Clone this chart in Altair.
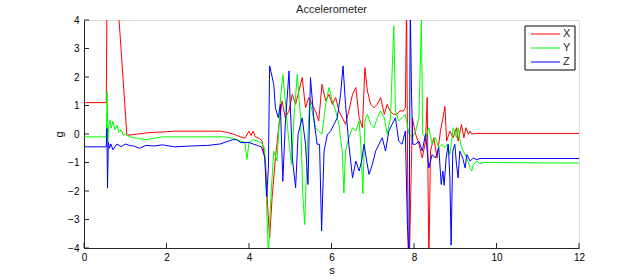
import altair as alt
import pandas as pd

# ---- data ----
series_names = ["X", "Y", "Z"]
series_colors = ["#ff0000", "#00ff00", "#0000ff"]
x_ticks = [0, 2, 4, 6, 8, 10, 12]
y_ticks = [-4, -3, -2, -1, 0, 1, 2, 3, 4]
chart_title = "Accelerometer"

tX = [0, 0.54, 0.56, 0.78, 1.04, 1.3, 1.6, 2.0, 2.2, 3.3,
      3.5, 3.7, 3.9, 4.0, 4.05, 4.1, 4.15, 4.25, 4.32, 4.40,
      4.45, 4.50, 4.56, 4.64, 4.72, 4.80, 4.88, 4.97, 5.05, 5.13,
      5.21, 5.29, 5.37, 5.45, 5.53, 5.61, 5.69, 5.77, 5.86, 5.94,
      6.02, 6.10, 6.18, 6.26, 6.34, 6.42, 6.51, 6.59, 6.67, 6.75,
      6.81, 6.87, 6.95, 7.03, 7.11, 7.19, 7.28, 7.35, 7.42, 7.50,
      7.58, 7.66, 7.74, 7.79, 7.82, 7.86, 7.89, 7.96, 8.04, 8.12,
      8.20, 8.28, 8.32, 8.36, 8.40, 8.48, 8.56, 8.64, 8.69, 8.75,
      8.79, 8.87, 8.95, 9.03, 9.07, 9.15, 9.21, 9.26, 9.32, 9.36,
      9.40, 9.50, 12.0]
gX = [1.1, 1.1, 5.5, 5.5, -0.05, 0.0, 0.05, 0.08, 0.1, 0.1,
      0.05, -0.05, -0.15, 0.1, -0.05, 0.1, -0.1, -0.15, -0.25, -1.0,
      -2.5, -3.65, -2.24, -0.84, 0.22, 1.16, 0.57, 0.81, 1.39, 1.04,
      1.51, 1.98, 0.92, 1.28, 1.04, 0.81, 0.46, 1.74, 1.16, 1.39,
      1.04, 1.28, 0.81, 0.57, 0.34, 0.81, 1.39, 1.63, 0.57, 0.22,
      2.33, 1.51, 1.04, 0.92, 1.04, 1.28, 0.69, 1.04, 0.81, 0.69,
      0.69, 0.81, 0.81, 0.92, 4.5, -4.5, -4.3, 0.57, -0.01, -0.36,
      -0.84, -0.25, 1.28, -4.5, -0.6, -0.13, -0.84, 0.10, 0.46, 0.97,
      -0.25, 0.10, -0.13, 0.22, -0.25, 0.34, -0.13, 0.22, -0.01, 0.10,
      0.0, 0.02, 0.02]

tY = [0, 0.54, 0.56, 0.58, 0.60, 0.63, 0.66, 0.70, 0.75, 0.80,
      0.85, 0.90, 0.95, 1.0, 1.1, 1.3, 1.5, 1.7, 1.9, 2.5,
      3.4, 3.6, 3.8, 3.9, 3.95, 4.0, 4.1, 4.2, 4.3, 4.38,
      4.47, 4.52, 4.60, 4.68, 4.76, 4.82, 4.88, 4.95, 5.03, 5.09,
      5.17, 5.25, 5.30, 5.35, 5.41, 5.47, 5.53, 5.61, 5.69, 5.77,
      5.86, 5.94, 6.02, 6.10, 6.18, 6.26, 6.30, 6.34, 6.42, 6.51,
      6.59, 6.67, 6.71, 6.76, 6.81, 6.87, 6.95, 7.03, 7.11, 7.19,
      7.28, 7.35, 7.43, 7.51, 7.55, 7.63, 7.71, 7.79, 7.88, 7.96,
      8.04, 8.12, 8.18, 8.21, 8.28, 8.36, 8.44, 8.52, 8.60, 8.68,
      8.75, 8.81, 8.87, 8.95, 9.03, 9.07, 9.13, 9.19, 9.28, 9.36,
      9.40, 9.44, 9.52, 9.60, 9.70, 12.0]
gY = [-0.1, -0.1, 1.5, -0.3, 0.3, 0.5, 0.2, 0.45, 0.15, 0.3,
      0.05, 0.15, -0.05, 0.0, -0.1, -0.15, -0.2, -0.15, -0.1, -0.1,
      -0.1, -0.15, -0.25, -0.3, -0.9, -0.3, -0.2, -0.25, -0.3, -0.5,
      -4.3, -2.48, -0.60, -0.95, 1.16, 2.09, 1.16, -0.01, -1.07, 0.57,
      2.09, 0.57, -2.01, -3.18, -0.60, 1.16, 0.81, 0.22, 0.10, -0.01,
      1.04, 1.63, 1.16, 0.81, 0.34, -0.60, -2.07, -0.60, -0.13, 0.22,
      0.10, 0.46, -0.36, -2.1, 0.46, 0.69, 0.34, 0.22, 0.57, 0.81,
      0.57, -0.01, 0.57, 3.8, 0.81, 0.46, 0.57, 0.69, -0.01, -0.13,
      0.10, 0.57, 4.0, -0.01, -0.13, 0.22, -0.36, -0.13, -0.48, -0.36,
      -0.48, -0.36, -0.72, 0.22, -0.13, 0.22, -0.36, -0.60, -0.84, -1.19,
      -1.30, -1.07, -0.95, -1.04, -1.0, -1.02]

tZ = [0, 0.54, 0.555, 0.57, 0.59, 0.62, 0.65, 0.70, 0.75, 0.80,
      0.90, 1.0, 1.1, 1.2, 1.35, 1.5, 1.7, 1.9, 2.2, 2.6,
      3.0, 3.3, 3.5, 3.6, 3.7, 3.8, 4.0, 4.1, 4.2, 4.3,
      4.38, 4.43, 4.47, 4.50, 4.53, 4.60, 4.64, 4.71, 4.76, 4.82,
      4.88, 4.97, 5.05, 5.13, 5.19, 5.29, 5.37, 5.43, 5.49, 5.57,
      5.65, 5.71, 5.76, 5.82, 5.90, 5.98, 6.06, 6.14, 6.22, 6.28,
      6.34, 6.42, 6.51, 6.59, 6.67, 6.73, 6.79, 6.84, 6.91, 6.99,
      7.07, 7.15, 7.23, 7.31, 7.39, 7.47, 7.55, 7.63, 7.71, 7.79,
      7.84, 7.88, 7.91, 7.94, 7.97, 8.04, 8.12, 8.20, 8.28, 8.36,
      8.44, 8.52, 8.60, 8.66, 8.70, 8.73, 8.78, 8.83, 8.87, 8.90,
      8.94, 8.99, 9.03, 9.07, 9.11, 9.18, 9.24, 9.28, 9.36, 9.44,
      9.52, 9.60, 12.0]
gZ = [-0.45, -0.45, 0.2, -1.9, -0.3, -0.5, -0.35, -0.55, -0.45, -0.35,
      -0.45, -0.35, -0.4, -0.42, -0.5, -0.4, -0.42, -0.38, -0.45, -0.42,
      -0.4, -0.35, -0.25, -0.2, -0.2, -0.3, -0.3, -0.35, -0.4, -0.45,
      -0.8, -2.2, -1.2, 2.39, 2.2, 1.74, 0.92, 0.57, 1.04, -1.66,
      0.34, 2.21, -0.84, -1.89, -0.01, 0.57, -0.36, -1.77, 1.98, 0.57,
      -0.36, -0.36, -3.4, -0.60, -0.01, 0.10, 0.34, 0.57, 1.39, 2.39,
      1.04, -0.36, -1.54, -0.95, -1.30, -0.95, -0.36, -0.84, -1.42, -1.07,
      -0.60, -0.36, -0.13, -0.60, 0.10, 0.34, 0.57, -0.25, -0.36, 0.10,
      -3.18, -4.3, 4.5, 1.39, -0.36, -0.36, -0.25, -0.60, 0.0, -1.19,
      -0.72, -0.84, -0.48, -1.77, -1.30, -1.8, -0.84, -0.36, -1.54, -3.9,
      -0.60, -0.36, -1.07, -1.54, -0.60, -0.84, -1.19, -0.72, -0.95, -0.84,
      -0.90, -0.86, -0.86]

# ---- build long table ----
frames = []
for name, ts, gs in zip(series_names, [tX, tY, tZ], [gX, gY, gZ]):
    assert len(ts) == len(gs)
    frames.append(pd.DataFrame({"t": ts, "g": gs, "series": name}))
df = pd.concat(frames, ignore_index=True)

W, H = 495, 228
FONT = "Liberation Sans"
AX = "#262626"

xscale = alt.Scale(domain=[0, 12], nice=False)
yscale = alt.Scale(domain=[-4, 4], nice=False)
xaxis = alt.Axis(values=x_ticks, title="s", grid=False, ticks=False,
                 labelFlush=False, labelOverlap=False,
                 labelPadding=4, titlePadding=2, domainColor=AX,
                 titleFontWeight="normal")
yaxis = alt.Axis(values=y_ticks, title="g", grid=False, ticks=False,
                 labelFlush=False, labelOverlap=False,
                 labelPadding=5, titlePadding=3, domainColor=AX,
                 titleFontWeight="normal")

lines = alt.Chart(df).mark_line(clip=True, strokeWidth=1).encode(
    x=alt.X("t:Q", scale=xscale, axis=xaxis),
    y=alt.Y("g:Q", scale=yscale, axis=yaxis),
    color=alt.Color("series:N", scale=alt.Scale(domain=series_names, range=series_colors),
                    legend=None),
)

xtick_df = pd.DataFrame({"t": x_ticks})
ytick_df = pd.DataFrame({"g": y_ticks})
xtick_marks = alt.Chart(xtick_df).mark_rule(color=AX, strokeWidth=1).encode(
    x=alt.X("t:Q", scale=xscale, axis=xaxis), y=alt.value(H), y2=alt.value(H - 5))
ytick_marks = alt.Chart(ytick_df).mark_rule(color=AX, strokeWidth=1).encode(
    y=alt.Y("g:Q", scale=yscale, axis=yaxis), x=alt.value(0), x2=alt.value(5))

one = pd.DataFrame({"a": [0]})

title_mark = alt.Chart(one).mark_text(align="center", baseline="middle", font=FONT,
                                      fontSize=11, color=AX).encode(
    x=alt.value(W / 2), y=alt.value(-10), text=alt.value(chart_title))

# ---- manual legend (MATLAB style) ----
leg_left, leg_right, leg_top, leg_bottom = 441, 491, 6, 50
legend_layers = [
    alt.Chart(one).mark_rect(fill="white", stroke="black", strokeWidth=1).encode(
        x=alt.value(leg_left), x2=alt.value(leg_right),
        y=alt.value(leg_top), y2=alt.value(leg_bottom))
]
for i, (name, col) in enumerate(zip(series_names, series_colors)):
    yy = 14 + 14 * i
    legend_layers.append(
        alt.Chart(one).mark_rule(color=col, strokeWidth=1).encode(
            x=alt.value(447), x2=alt.value(476), y=alt.value(yy)))
    legend_layers.append(
        alt.Chart(one).mark_text(align="left", baseline="middle", font=FONT,
                                 fontSize=11, color=AX).encode(
            x=alt.value(479), y=alt.value(yy), text=alt.value(name)))

chart = alt.layer(lines, xtick_marks, ytick_marks, title_mark, *legend_layers).properties(
    width=W, height=H,
    padding={"left": 84, "top": 20, "right": 61, "bottom": 31},
    autosize="none",
).configure_view(stroke=None).configure_axis(
    labelFont=FONT, labelFontSize=11, labelColor=AX,
    titleFont=FONT, titleFontSize=11, titleColor=AX, titleFontWeight="normal",
).configure(background="white")

chart.save("out.html", embed_options={"renderer": "svg", "actions": False})
